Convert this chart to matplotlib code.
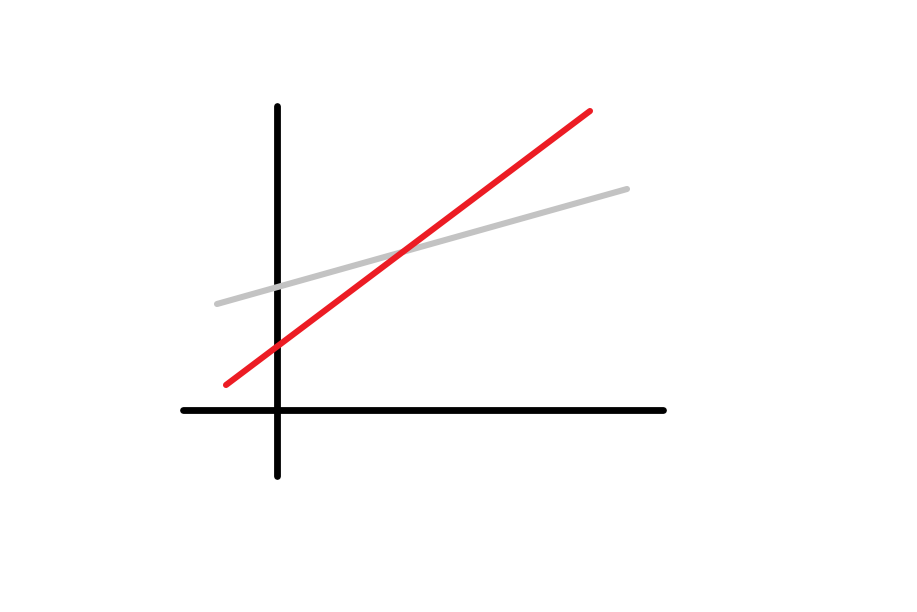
import matplotlib
matplotlib.use("Agg")
import matplotlib.pyplot as plt

# axis lines (data units, origin at the crossing)
axis_x = [-0.94, 3.86]
axis_y = [-0.66, 3.04]

# the two lines
gray_x = [-0.60, 3.50]
gray_y = [1.06, 2.21]
red_x = [-0.51, 3.13]
red_y = [0.25, 2.99]

fig = plt.figure(figsize=(9.17, 6.12), dpi=100)
ax = fig.add_axes([0, 0, 1, 1])
ax.set_xlim(-2.77, 6.40)
ax.set_ylim(-2.02, 4.10)
ax.axis("off")

ax.plot(axis_x, [0, 0], color="black", lw=4.9, solid_capstyle="round")
ax.plot([0, 0], axis_y, color="black", lw=4.9, solid_capstyle="round")
ax.plot(gray_x, gray_y, color="#c3c3c3", lw=4.4, solid_capstyle="round")
ax.plot(red_x, red_y, color="#ec1c24", lw=4.4, solid_capstyle="round")

fig.savefig("out.png", dpi=100)
